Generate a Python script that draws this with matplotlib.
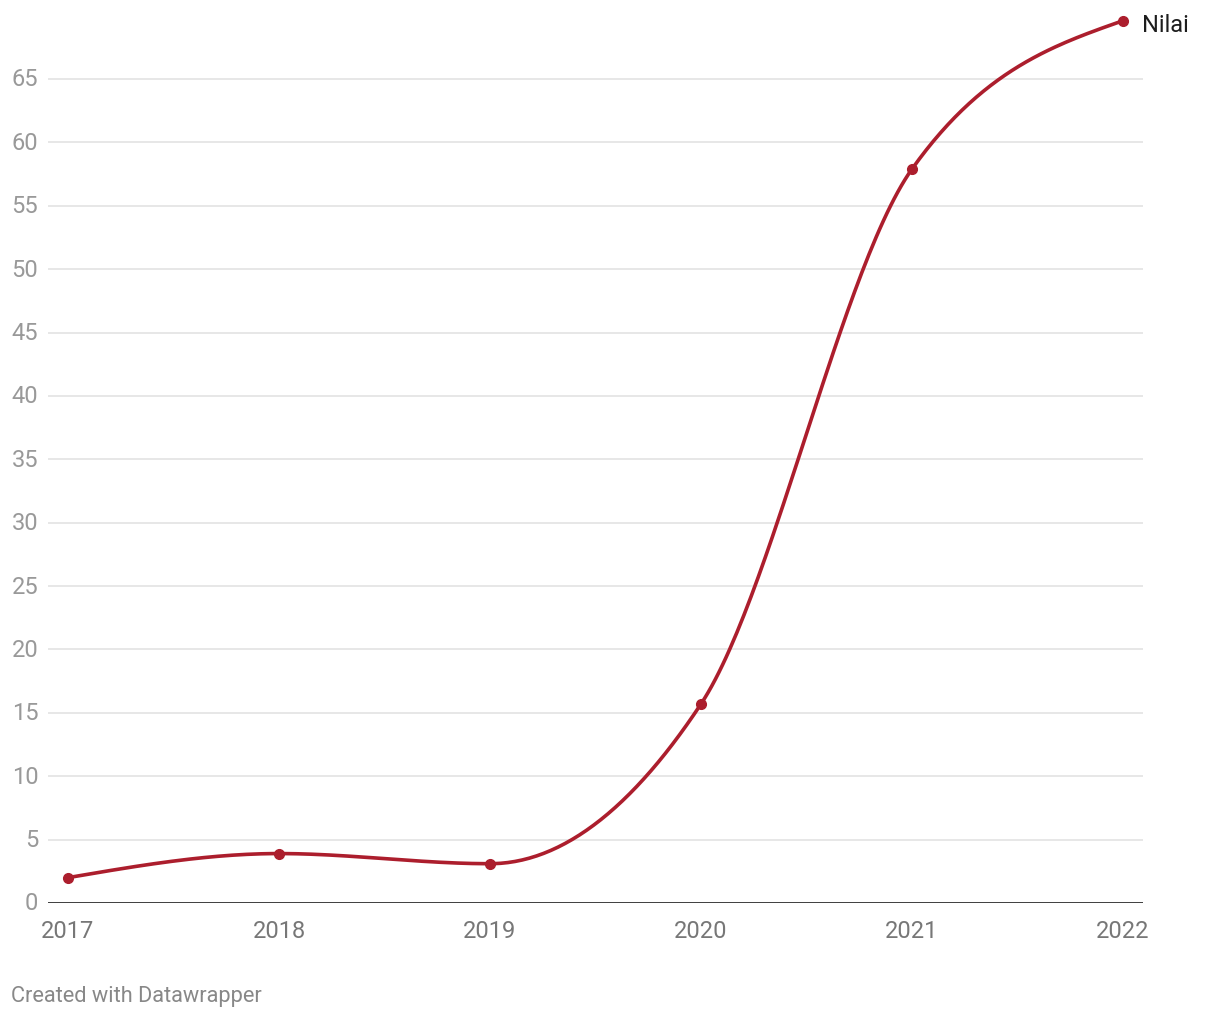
#!/usr/bin/env python3
"""Nilai per year, Datawrapper-style line chart."""

import numpy as np
import matplotlib.pyplot as plt

plt.rcParams["font.family"] = ["Roboto", "DejaVu Sans"]

years = [2017, 2018, 2019, 2020, 2021, 2022]
values = [2.0, 3.9, 3.1, 15.7, 57.9, 69.6]
series_label = "Nilai"
y_ticks = [0, 5, 10, 15, 20, 25, 30, 35, 40, 45, 50, 55, 60, 65]
credit = "Created with Datawrapper"

LINE_COLOR = "#ac1e2d"


def monotone_curve(x, y, n=60):
    # same idea as d3.curveMonotoneX (Steffen-type slopes)
    x = np.asarray(x, float)
    y = np.asarray(y, float)
    h = np.diff(x)
    s = np.diff(y) / h
    m = np.zeros_like(y)
    for i in range(1, len(x) - 1):
        p = (s[i - 1] * h[i] + s[i] * h[i - 1]) / (h[i - 1] + h[i])
        m[i] = (np.sign(s[i - 1]) + np.sign(s[i])) * min(abs(s[i - 1]), abs(s[i]), 0.5 * abs(p))
    m[0] = (3 * s[0] - m[1]) / 2
    m[-1] = (3 * s[-1] - m[-2]) / 2
    xs, ys = [], []
    for i in range(len(x) - 1):
        t = np.linspace(0, 1, n)
        h00 = 2 * t**3 - 3 * t**2 + 1
        h10 = t**3 - 2 * t**2 + t
        h01 = -2 * t**3 + 3 * t**2
        h11 = t**3 - t**2
        xs.append(x[i] + t * h[i])
        ys.append(h00 * y[i] + h10 * h[i] * m[i] + h01 * y[i + 1] + h11 * h[i] * m[i + 1])
    return np.concatenate(xs), np.concatenate(ys)


def main():
    fig = plt.figure(figsize=(12.2, 10.2), dpi=100)
    ppu = 824 / 65.0
    ytop = 70.5
    ax = fig.add_axes([48 / 1220, 116 / 1020, 1095 / 1220, ytop * ppu / 1020])

    x0 = years[0] - 20 / 211
    x1 = years[-1] + 20 / 211
    ax.set_xlim(x0, x1)
    ax.set_ylim(0, ytop)

    for t in y_ticks[1:]:
        ax.axhline(t, color="#e3e3e3", lw=1.2, zorder=1)
    ax.axhline(0, color="#1a1a1a", lw=1.9, zorder=2)

    cx, cy = monotone_curve(years, values)
    ax.plot(cx, cy, color=LINE_COLOR, lw=2.6, zorder=3, solid_capstyle="round")
    ax.plot(years, values, "o", color=LINE_COLOR, ms=7, zorder=4)

    ax.annotate(series_label, (years[-1], values[-1]), xytext=(19, -4),
                textcoords="offset pixels", va="center", ha="left",
                fontsize=17, color="#1d1d1d")

    for sp in ax.spines.values():
        sp.set_visible(False)
    ax.set_yticks(y_ticks)
    ax.set_yticklabels([str(t) for t in y_ticks])
    ax.set_xticks(years)
    ax.set_xticklabels([str(y) for y in years])
    ax.tick_params(axis="y", length=0, pad=7, labelsize=17, labelcolor="#999999")
    ax.tick_params(axis="x", length=0, pad=11.5, labelsize=17, labelcolor="#777777")
    for lbl in ax.get_yticklabels():
        lbl.set_verticalalignment("center")
    ax.set_facecolor("white")

    fig.text(11 / 1220, 1 - 997 / 1020, credit, fontsize=15.7, color="#888888",
             ha="left", va="center")

    fig.savefig("out.png", dpi=100, facecolor="white")


if __name__ == "__main__":
    main()
